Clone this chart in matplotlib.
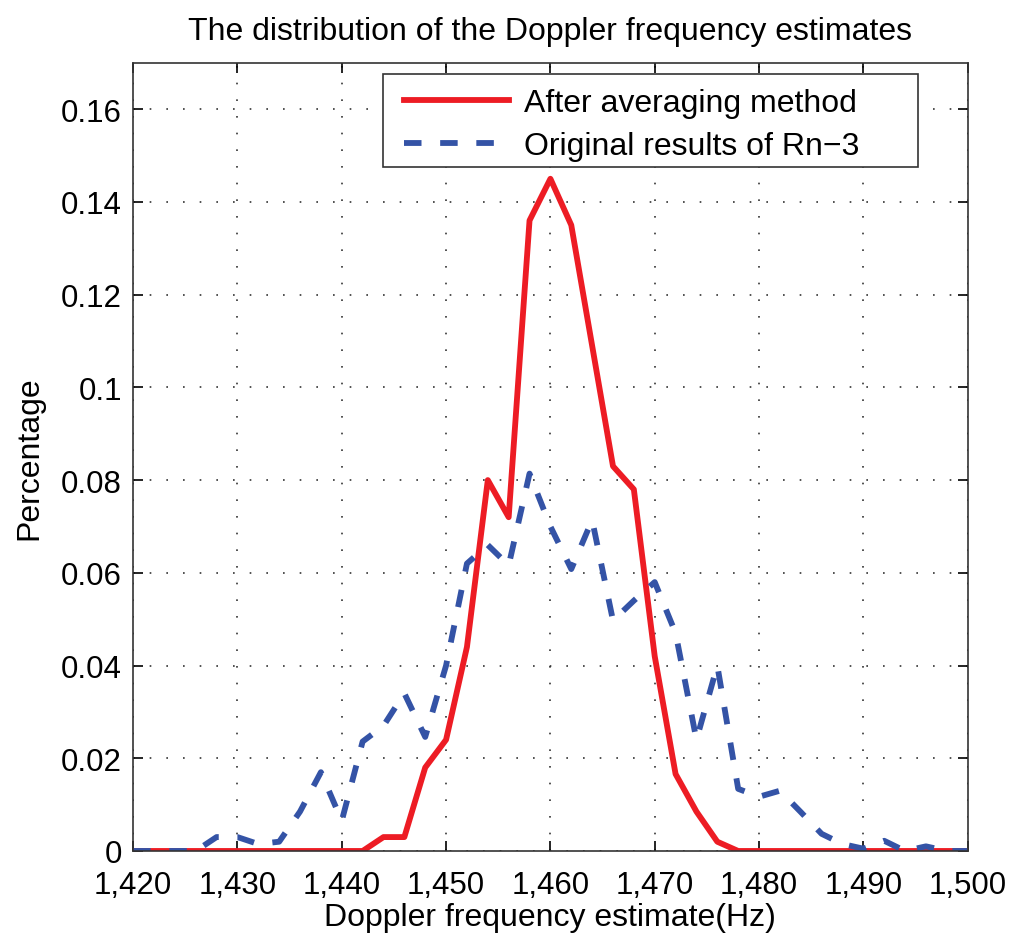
import numpy as np
import matplotlib.pyplot as plt
from matplotlib.patches import Rectangle

plt.rcParams['font.family'] = ['Liberation Sans', 'DejaVu Sans']

# frequency bins (Hz)
freq = np.arange(1420, 1501, 2)

# after averaging method
avg_pct = [0, 0, 0, 0, 0, 0, 0, 0, 0, 0,
           0, 0, 0.003, 0.003, 0.018, 0.024, 0.044, 0.080, 0.072, 0.136,
           0.145, 0.135, 0.109, 0.083, 0.078, 0.042, 0.0166, 0.0085, 0.002, 0,
           0, 0, 0, 0, 0, 0, 0, 0, 0, 0, 0]

# original results of Rn-3
orig_pct = [0, 0, 0, 0, 0.003, 0.003, 0.0015, 0.002, 0.0085, 0.017,
            0.0065, 0.0236, 0.027, 0.034, 0.0246, 0.040, 0.062, 0.066, 0.0616, 0.0814,
            0.070, 0.0608, 0.0714, 0.0497, 0.054, 0.058, 0.047, 0.024, 0.040, 0.0134,
            0.0117, 0.013, 0.0084, 0.0037, 0.0015, 0.0005, 0.0022, 0, 0.001, 0, 0]

fig = plt.figure(figsize=(10.24, 9.53), dpi=100)
ax = fig.add_axes([0.130, 0.106, 0.815, 0.827])

ax.plot(freq, avg_pct, color='#ED1C24', linewidth=4.2, label='After averaging method')
ax.plot(freq, orig_pct, color='#3453A6', linewidth=4.2, linestyle=(0, (3.0, 3.2)),
        label='Original results of Rn\u22123')

ax.set_xlim(1420, 1500)
ax.set_ylim(0, 0.17)
ax.set_xticks(np.arange(1420, 1501, 10))
ax.set_xticklabels([f'{v:,}' for v in range(1420, 1501, 10)])
ax.set_yticks(np.arange(0, 0.161, 0.02))
ax.set_yticklabels(['0', '0.02', '0.04', '0.06', '0.08', '0.1', '0.12', '0.14', '0.16'])
ax.tick_params(direction='in', top=True, right=True, labelsize=22.5, length=7, width=1.2)
ax.tick_params(axis='x', pad=14)
ax.tick_params(axis='y', pad=8)
ax.grid(True, linestyle=(0, (1, 9)), color='#333333', linewidth=1.2)
for s in ax.spines.values():
    s.set_linewidth(1.2)
    s.set_color('#333333')

ax.set_title('The distribution of the Doppler frequency estimates', fontsize=23, pad=17)
ax.set_xlabel('Doppler frequency estimate(Hz)', fontsize=23, labelpad=1)
ax.set_ylabel('Percentage', fontsize=23, labelpad=12)

# MATLAB style legend: wide box drawn separately
ax.add_patch(Rectangle((0.2994, 0.868), 0.6406, 0.118, transform=ax.transAxes,
                       facecolor='white', edgecolor='#333333', linewidth=1.2, zorder=4))
leg = ax.legend(loc='upper left', bbox_to_anchor=(0.3246, 0.968), fontsize=23,
                frameon=False, handlelength=3.3, handletextpad=0.45,
                borderpad=0, borderaxespad=0, labelspacing=0.41)
leg.set_zorder(5)

plt.savefig('out.png', dpi=100)
